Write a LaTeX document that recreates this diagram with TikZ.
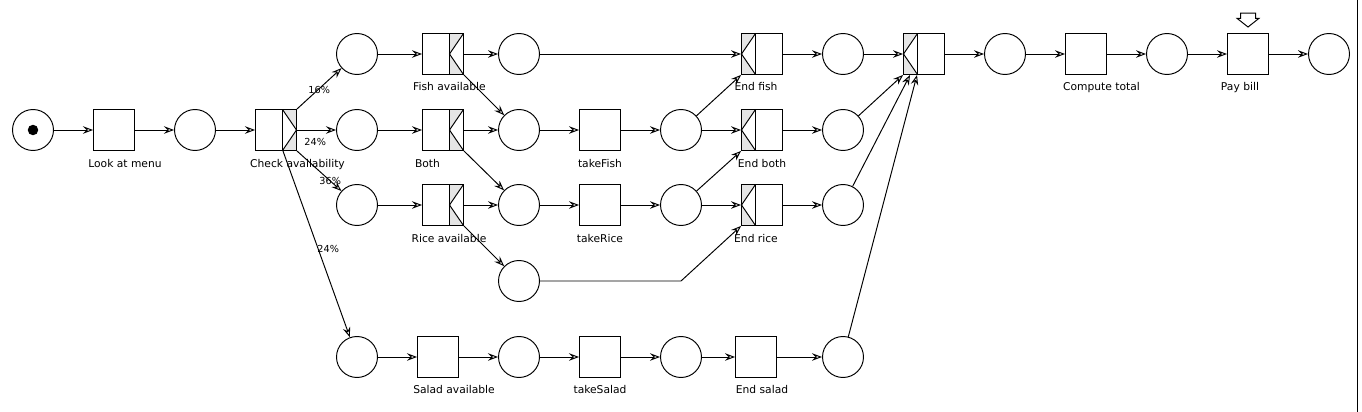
\documentclass[tikz,border=0pt]{standalone}
\usepackage{fontspec}
\setmainfont{DejaVu Sans}
\usetikzlibrary{calc,arrows.meta}

\begin{document}
\begin{tikzpicture}[
    x=0.02cm, y=-0.02cm,
    line width=0.55pt,
    >={Stealth[open,length=2mm,width=1.5mm,inset=0.7mm]},
    place/.style={draw,circle,minimum size=0.82cm,inner sep=0pt},
    token/.style={circle,fill,minimum size=0.21cm,inner sep=0pt},
    trans/.style={draw,minimum size=0.82cm,inner sep=0pt},
    decor/.style={fill=black!10},
    splitout/.style={trans,path picture={
        \fill[decor] ($(path picture bounding box.north east)+(-14,0)$) rectangle (path picture bounding box.south east);
        \filldraw[fill=white] ($(path picture bounding box.north east)+(-14,0)$) -- (path picture bounding box.east)
          -- ($(path picture bounding box.south east)+(-14,0)$) -- cycle;}},
    splitin/.style={trans,path picture={
        \fill[decor] ($(path picture bounding box.north east)+(-14,0)$) rectangle (path picture bounding box.south east);
        \filldraw[fill=white] (path picture bounding box.north east) -- ($(path picture bounding box.east)+(-14,0)$)
          -- (path picture bounding box.south east);
        \draw ($(path picture bounding box.north east)+(-14,0)$) -- ($(path picture bounding box.south east)+(-14,0)$);}},
    joinbox/.style={trans,path picture={
        \fill[decor] (path picture bounding box.north west) rectangle ($(path picture bounding box.south west)+(14,0)$);
        \filldraw[fill=white] ($(path picture bounding box.north west)+(14,0)$) -- (path picture bounding box.west)
          -- ($(path picture bounding box.south west)+(14,0)$) -- cycle;}},
    lbl/.style={anchor=base,inner sep=0pt,font=\fontsize{6.1}{7}\selectfont},
    pct/.style={anchor=base west,inner sep=0pt,font=\fontsize{5.5}{6}\selectfont},
  ]

  \useasboundingbox (0,0) rectangle (1362,412);
  \draw (1357,0) -- (1357,412);

  % places
  \node (s) at (33,130) [place] {};
  \node (tok) at (s) [token] {};
  \node (p-0) at (195,130) [place] {};

  \foreach \r/\y in {1/54,2/130,3/205,5/357}
  {
    \node (q-\r) at (357,\y) [place] {};
    \node (e-\r) at (843,\y) [place] {};
  }
  \foreach \r/\y in {1/54,2/130,3/205,4/281,5/357}
    \node (m-\r) at (519,\y) [place] {};
  \foreach \r/\y in {2/130,3/205,5/357}
    \node (n-\r) at (681,\y) [place] {};
  \foreach \i/\x in {1/1005,2/1167,3/1329}
    \node (f-\i) at (\x,54) [place] {};

  % transitions
  \node (look) at (114,130) [trans] {};
  \node (check) at (276,130) [splitout] {};
  \node (fish) at (443,54) [splitin] {};
  \node (both) at (443,130) [splitin] {};
  \node (rice) at (443,205) [splitin] {};
  \node (salad) at (438,357) [trans] {};
  \foreach \r/\y in {2/130,3/205,5/357}
    \node (take-\r) at (600,\y) [trans] {};
  \foreach \r/\y in {1/54,2/130,3/205}
    \node (end-\r) at (762,\y) [joinbox] {};
  \node (end-5) at (756,357) [trans] {};
  \node (sync) at (924,54) [joinbox] {};
  \node (total) at (1086,54) [trans] {};
  \node (pay) at (1248,54) [trans] {};

  \draw[shift={(pay.north)}] (-7.5,-20) -- (7.5,-20) -- (7.5,-14.7) -- (11,-14.7) -- (0,-6)
    -- (-11,-14.7) -- (-7.5,-14.7) -- cycle;

  % labels
  \node (l-look) at (125,167) [lbl] {Look at menu};
  \node (l-check) at (297.5,167) [lbl] {Check availability};
  \node (l-fish) at (449.5,91) [lbl] {Fish available};
  \node (l-both) at (427.5,167) [lbl] {Both};
  \node (l-rice) at (449,242) [lbl] {Rice available};
  \node (l-salad) at (454,393) [lbl] {Salad available};
  \node (l-take-2) at (600,167) [lbl] {takeFish};
  \node (l-take-3) at (600,242) [lbl] {takeRice};
  \node (l-take-5) at (600,393) [lbl] {takeSalad};
  \node (l-end-1) at (756,91) [lbl] {End fish};
  \node (l-end-2) at (762,167) [lbl] {End both};
  \node (l-end-3) at (756,242) [lbl] {End rice};
  \node (l-end-5) at (762,393) [lbl] {End salad};
  \node (l-total) at (1101.5,91) [lbl] {Compute total};
  \node (l-pay) at (1240,91) [lbl] {Pay bill};

  \node (w-1) at (308,93) [pct] {16\%};
  \node (w-2) at (304,146) [pct] {24\%};
  \node (w-3) at (319,184) [pct] {36\%};
  \node (w-5) at (317,252) [pct] {24\%};

  % arcs
  \foreach \a/\b in {s/look,look/p-0,p-0/check,q-1/fish,fish/m-1,m-1/end-1,end-1/e-1,e-1/sync,
      sync/f-1,f-1/total,total/f-2,f-2/pay,pay/f-3,
      q-2/both,both/m-2,m-2/take-2,take-2/n-2,n-2/end-2,end-2/e-2,
      q-3/rice,rice/m-3,m-3/take-3,take-3/n-3,n-3/end-3,end-3/e-3,
      q-5/salad,salad/m-5,m-5/take-5,take-5/n-5,n-5/end-5,end-5/e-5}
    \draw[->] (\a) -- (\b);

  \draw[->] (check.north east) -- (q-1);
  \draw[->] (check.east) -- (q-2);
  \draw[->] (check.south east) -- (q-3);
  \draw[->] ($(check.south east)+(-14,0)$) -- (q-5);

  \draw[->] (fish.south east) -- (m-2);
  \draw[->] (both.south east) -- (m-3);
  \draw[->] (rice.south east) -- (m-4);

  \draw[->] (n-2) -- (end-1.south west);
  \draw[->] (n-3) -- (end-2.south west);
  \coordinate (bend) at (681,281);
  \draw[->] (m-4) -- (bend) -- (end-3.south west);

  \draw[->] (e-2) -- (sync.south west);
  \draw[->] (e-3) -- ($(sync.south west)+(7,0)$);
  \draw[->] (e-5) -- ($(sync.south west)+(14,0)$);

\end{tikzpicture}
\end{document}
